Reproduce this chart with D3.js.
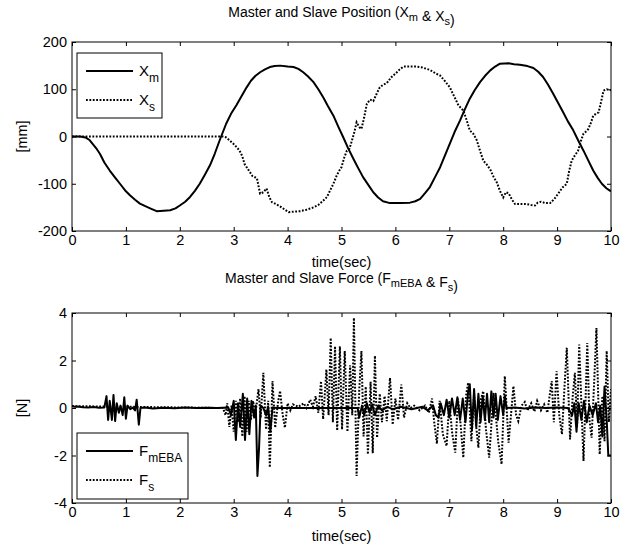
<!DOCTYPE html>
<html>
<head>
<meta charset="utf-8">
<script src="https://cdn.jsdelivr.net/npm/d3@7"></script>
<style>
  body { margin: 0; background: #fff; }
  svg text { font-family: "Liberation Sans Narrow", "Arial Narrow", "Liberation Sans", Arial, sans-serif; fill: #000; }
</style>
</head>
<body>
<div id="chart"></div>
<script>
// ---- position plot (mm) ----
var xmTime = [0,0.15,0.25,0.33,0.45,0.52,0.6,0.7,0.8,0.89,1.0,1.08,1.17,1.26,1.35,1.45,1.57,1.7,1.82,1.92,2.0,2.1,2.19,2.28,2.37,2.46,2.56,2.65,2.74,2.86,2.95,3.05,3.15,3.24,3.32,3.4,3.49,3.58,3.67,3.76,3.86,4.0,4.11,4.2,4.29,4.38,4.48,4.57,4.66,4.75,4.85,4.94,5.03,5.12,5.22,5.31,5.4,5.5,5.59,5.68,5.77,5.9,6.1,6.27,6.37,6.46,6.55,6.64,6.74,6.83,6.92,7.01,7.1,7.2,7.29,7.38,7.47,7.57,7.66,7.76,7.85,7.94,8.1,8.2,8.31,8.45,8.56,8.65,8.74,8.83,8.93,9.02,9.11,9.2,9.3,9.39,9.49,9.58,9.67,9.75,9.83,9.92,10];
var xmValue = [0,0,-2,-8,-25,-37,-55,-72,-87,-100,-116,-125,-134,-142,-147,-152,-158,-157,-156,-152,-146,-138,-128,-115,-100,-82,-61,-36,-8,27,48,66,86,104,118,128,136,142,147,149,150,148,147,143,136,127,115,100,83,64,44,21,-1,-24,-47,-67,-86,-103,-118,-129,-137,-141,-141,-140,-137,-132,-120,-107,-85,-65,-40,-15,10,34,58,80,98,115,128,140,148,154,155,153,152,149,145,137,126,110,90,71,52,32,13,-8,-30,-51,-72,-87,-100,-110,-116];

var xsTime = [0,2.8,2.86,2.92,2.99,3.05,3.11,3.16,3.2,3.27,3.35,3.43,3.49,3.55,3.61,3.66,3.71,3.8,3.86,3.95,4.02,4.12,4.23,4.35,4.48,4.57,4.66,4.73,4.79,4.85,4.91,4.96,5.0,5.05,5.1,5.15,5.19,5.24,5.28,5.33,5.37,5.42,5.47,5.53,5.59,5.65,5.71,5.78,5.84,5.92,6.0,6.08,6.15,6.25,6.39,6.5,6.64,6.74,6.83,6.92,7.01,7.09,7.17,7.26,7.32,7.38,7.45,7.51,7.57,7.63,7.7,7.76,7.82,7.88,7.94,8.0,8.05,8.1,8.16,8.22,8.32,8.43,8.52,8.59,8.64,8.7,8.78,8.87,8.95,9.02,9.1,9.18,9.22,9.27,9.33,9.39,9.44,9.49,9.55,9.58,9.63,9.67,9.72,9.77,9.82,9.86,9.92,10];
var xsValue = [0,0,-2,-8,-15,-22,-30,-42,-58,-70,-84,-88,-121,-118,-110,-128,-139,-144,-148,-155,-160,-159,-158,-155,-150,-145,-136,-128,-114,-100,-83,-72,-65,-45,-30,-25,-10,10,30,20,16,40,69,78,75,90,104,110,113,125,133,142,148,148,148,146,141,134,129,117,104,85,66,55,35,13,5,-8,-30,-51,-60,-70,-85,-97,-115,-129,-118,-120,-133,-143,-143,-143,-145,-146,-140,-138,-141,-141,-132,-121,-108,-100,-75,-51,-40,-30,-10,6,12,16,30,44,48,51,75,97,100,98];

// ---- force plot (N) ----
var fmTime = [0,0.05,0.1,0.2,0.3,0.4,0.5,0.6,0.64,0.67,0.7,0.74,0.77,0.8,0.83,0.87,0.9,0.94,0.97,1.0,1.03,1.08,1.13,1.17,1.2,1.24,1.27,1.35,1.5,1.7,1.9,2.1,2.3,2.5,2.7,2.9,2.95,3.0,3.04,3.08,3.12,3.17,3.21,3.25,3.29,3.33,3.38,3.41,3.44,3.47,3.5,3.55,3.6,3.64,3.68,3.72,3.8,4.0,4.5,5.0,5.3,5.33,5.38,5.42,5.47,5.52,5.57,5.62,5.68,5.75,5.85,5.95,6.1,6.3,6.5,6.6,6.7,6.75,6.8,6.84,6.9,6.95,7.0,7.05,7.1,7.15,7.2,7.25,7.3,7.35,7.38,7.42,7.46,7.5,7.54,7.58,7.62,7.66,7.7,7.74,7.78,7.82,7.86,7.9,7.95,8.0,8.03,8.06,8.2,8.4,8.6,8.8,9.0,9.2,9.28,9.32,9.36,9.4,9.45,9.5,9.55,9.6,9.66,9.72,9.76,9.8,9.84,9.88,9.92,9.95,10];
var fmValue = [0.08,0.05,0.06,0.03,0.02,0.04,0.01,0.02,0.5,-0.5,0.3,-0.5,0.55,-0.55,0.2,-0.2,0.1,-0.3,0.45,-0.45,0.1,-0.05,0.02,-0.1,0.35,-0.7,0,0.02,-0.02,0.01,-0.01,0.02,0,0.01,0,0.02,-0.3,0.3,-1.35,0.2,-0.8,0.6,-1.35,0.4,-1.1,0.3,-0.4,0.1,-2.86,-1.7,0.1,0,-0.3,0.05,-1.0,0.02,0,0,0,0,0,-0.4,0.1,-0.3,0.2,-0.2,0.15,-0.3,0.1,-0.1,0.05,-0.05,0.05,-0.05,0.05,-0.1,0.1,-0.3,-0.4,0.2,-0.3,0.35,-0.4,0.4,-0.3,0.45,-0.5,0.4,-0.6,0.7,1.0,-0.9,0.8,-0.8,0.6,-0.6,0.5,-0.5,0.6,-0.6,0.7,-0.4,0.6,-0.5,0.5,-0.3,0.5,0,0.02,-0.02,0.02,0,0.02,0,-0.3,0.2,-1.0,0.2,-0.5,0.3,-0.6,0.1,-0.3,0.2,-0.6,0.1,-1.2,0.9,-0.5,-2.0,-2.0];

var fsTime = [0,2.8,2.85,2.88,2.92,2.96,3.0,3.04,3.08,3.12,3.16,3.2,3.24,3.28,3.32,3.36,3.4,3.46,3.5,3.55,3.6,3.64,3.67,3.72,3.77,3.82,3.86,3.91,3.95,4.0,4.05,4.1,4.2,4.3,4.35,4.42,4.47,4.52,4.57,4.62,4.66,4.72,4.76,4.8,4.84,4.88,4.92,4.97,5.01,5.06,5.11,5.16,5.2,5.23,5.28,5.33,5.37,5.41,5.45,5.49,5.54,5.58,5.62,5.66,5.71,5.75,5.8,5.84,5.9,5.95,6.0,6.05,6.11,6.16,6.22,6.28,6.35,6.45,6.55,6.62,6.68,6.72,6.77,6.82,6.88,6.95,7.0,7.05,7.11,7.16,7.21,7.26,7.31,7.35,7.41,7.46,7.5,7.54,7.59,7.63,7.68,7.74,7.82,7.87,7.91,7.97,8.03,8.1,8.19,8.24,8.28,8.34,8.4,8.45,8.52,8.58,8.63,8.7,8.76,8.82,8.86,8.9,8.94,8.99,9.04,9.09,9.14,9.18,9.24,9.29,9.33,9.37,9.41,9.45,9.49,9.53,9.56,9.6,9.64,9.69,9.73,9.79,9.84,9.88,9.92,9.96,10];
var fsValue = [0.08,0,-0.3,0.2,-0.8,0.1,-1.0,0.3,-0.6,0.4,-1.2,0.5,-1.0,0.3,-0.5,0.3,-0.3,0.8,-0.4,1.48,-0.9,0.3,-2.5,1.13,-0.83,0.2,0.72,-0.3,-0.83,0.2,-0.1,0.15,0.05,0.2,0,0.35,0.05,0.5,-0.2,1.13,-0.47,1.62,-0.3,2.95,-0.6,2.6,-0.95,2.6,-0.9,2.4,-1.0,1.8,-0.3,3.8,-2.86,0.8,2.4,-1.2,0.9,-1.95,1.1,-1.9,2.2,-1.25,0.6,-0.6,0.5,-0.55,1.27,-0.7,0.4,-0.5,0.99,-0.4,0.2,0,0.1,-0.1,0.1,-0.2,0.4,-0.6,-1.5,0.3,-1.1,-1.6,0.3,-1.0,-1.88,0.4,-0.7,-2.09,0.5,1.07,-1.4,0.6,-0.8,-1.67,0.4,0.71,-0.9,-2.09,0.64,-0.5,-1.46,-2.37,1.34,-1.46,0.92,-0.3,-0.55,0.1,0.25,-0.1,0.2,-0.15,0.3,-0.1,0.15,-0.2,0.5,1.13,-0.6,1.55,-0.3,-1.11,1.0,2.54,-1.32,0.5,1.48,-0.8,2.67,0.2,-2.23,0.5,2.74,-0.5,-1.25,1.2,3.37,-1.95,0.5,-1.4,2.4,-0.6,0.8];

var timeTicks = [0,1,2,3,4,5,6,7,8,9,10];
var posTicks = [-200,-100,0,100,200];
var forceTicks = [-4,-2,0,2,4];

var width = 624, height = 546;
var left = 72, right = 611;

var svg = d3.select("#chart").append("svg")
  .attr("width", width)
  .attr("height", height);

var x = d3.scaleLinear().domain([0, 10]).range([left, right]);

function drawPanel(opts) {
  var y = d3.scaleLinear().domain(opts.domain).range([opts.bottom, opts.top]);
  var g = svg.append("g");
  var fmt = function(d) { return String(d); };

  g.append("rect")
    .attr("x", left).attr("y", opts.top)
    .attr("width", right - left).attr("height", opts.bottom - opts.top)
    .attr("fill", "#fff");

  var clipId = "clip" + opts.id;
  g.append("clipPath").attr("id", clipId)
    .append("rect")
    .attr("x", left).attr("y", opts.top - 2)
    .attr("width", right - left).attr("height", opts.bottom - opts.top + 4);

  // axes with inward ticks on all four sides
  g.append("g")
    .attr("transform", "translate(0," + opts.bottom + ")")
    .call(d3.axisBottom(x).tickValues(timeTicks).tickFormat(fmt).tickSizeInner(-4).tickSizeOuter(0).tickPadding(4))
    .call(function(a) { a.select(".domain").remove(); a.selectAll("text").attr("font-size", 14.5).attr("font-family", null); });
  g.append("g")
    .attr("transform", "translate(0," + opts.top + ")")
    .call(d3.axisTop(x).tickValues(timeTicks).tickFormat("").tickSizeInner(-4).tickSizeOuter(0))
    .call(function(a) { a.select(".domain").remove(); });
  g.append("g")
    .attr("transform", "translate(" + left + ",0)")
    .call(d3.axisLeft(y).tickValues(opts.ticks).tickFormat(fmt).tickSizeInner(-4).tickSizeOuter(0).tickPadding(5))
    .call(function(a) { a.select(".domain").remove(); a.selectAll("text").attr("font-size", 14.5).attr("font-family", null); });
  g.append("g")
    .attr("transform", "translate(" + right + ",0)")
    .call(d3.axisRight(y).tickValues(opts.ticks).tickFormat("").tickSizeInner(-4).tickSizeOuter(0))
    .call(function(a) { a.select(".domain").remove(); });

  var line = d3.line().x(function(d) { return x(d[0]); }).y(function(d) { return y(d[1]); });
  var plot = g.append("g").attr("clip-path", "url(#" + clipId + ")");

  plot.append("path")
    .datum(d3.zip(opts.solidT, opts.solidV))
    .attr("d", line)
    .attr("fill", "none").attr("stroke", "#000").attr("stroke-width", 2)
    .attr("stroke-linejoin", "round");
  plot.append("path")
    .datum(d3.zip(opts.dotT, opts.dotV))
    .attr("d", line)
    .attr("fill", "none").attr("stroke", "#000").attr("stroke-width", 2)
    .attr("stroke-dasharray", "1.8,1.6");

  g.append("rect")
    .attr("x", left).attr("y", opts.top)
    .attr("width", right - left).attr("height", opts.bottom - opts.top)
    .attr("fill", "none").attr("stroke", "#000").attr("stroke-width", 1);

  // title
  var t = g.append("text")
    .attr("x", (left + right) / 2).attr("y", opts.titleY)
    .attr("text-anchor", "middle").attr("font-size", 14);
  opts.title.forEach(function(p) {
    if (p.sub) {
      t.append("tspan").attr("font-size", 11).attr("dy", 4).text(p.sub);
      t.append("tspan").attr("dy", -4).text("");
    } else {
      t.append("tspan").text(p.s);
    }
  });

  g.append("text")
    .attr("x", (left + right) / 2).attr("y", opts.bottom + opts.xlabelGap)
    .attr("text-anchor", "middle").attr("font-size", 14.5)
    .text("time(sec)");

  g.append("text")
    .attr("transform", "translate(" + 27 + "," + y(0) + ") rotate(-90)")
    .attr("text-anchor", "middle").attr("font-size", 14.5)
    .text(opts.ylabel);

  // legend
  var lg = opts.legend;
  g.append("rect")
    .attr("x", lg.x).attr("y", lg.y).attr("width", lg.w).attr("height", lg.h)
    .attr("fill", "#fff").attr("stroke", "#000").attr("stroke-width", 1);
  lg.items.forEach(function(it, i) {
    var yy = lg.y + 18 + i * 29;
    g.append("line")
      .attr("x1", lg.x + 9).attr("x2", lg.x + 56)
      .attr("y1", yy).attr("y2", yy)
      .attr("stroke", "#000").attr("stroke-width", 2)
      .attr("stroke-dasharray", it.dotted ? "1.8,1.6" : null);
    var tx = g.append("text")
      .attr("x", lg.x + 62).attr("y", yy + 5)
      .attr("font-size", 15);
    tx.append("tspan").text(it.main);
    tx.append("tspan").attr("font-size", 12).attr("dy", 6).text(it.sub);
  });
}

drawPanel({
  id: 1, top: 42, bottom: 231, domain: [-200, 200], ticks: posTicks,
  solidT: xmTime, solidV: xmValue, dotT: xsTime, dotV: xsValue,
  titleY: 17, xlabelGap: 36,
  title: [{s: "Master and Slave Position (X"}, {sub: "m"}, {s: " & X"}, {sub: "s"}, {s: ")"}],
  ylabel: "[mm]",
  legend: {x: 77, y: 53, w: 85, h: 65, items: [{main: "X", sub: "m"}, {main: "X", sub: "s", dotted: true}]}
});

drawPanel({
  id: 2, top: 313, bottom: 503, domain: [-4, 4], ticks: forceTicks,
  solidT: fmTime, solidV: fmValue, dotT: fsTime, dotV: fsValue,
  titleY: 283, xlabelGap: 38,
  title: [{s: "Master and Slave Force (F"}, {sub: "mEBA"}, {s: " & F"}, {sub: "s"}, {s: ")"}],
  ylabel: "[N]",
  legend: {x: 77, y: 433, w: 111, h: 66, items: [{main: "F", sub: "mEBA"}, {main: "F", sub: "s", dotted: true}]}
});
</script>
</body>
</html>
